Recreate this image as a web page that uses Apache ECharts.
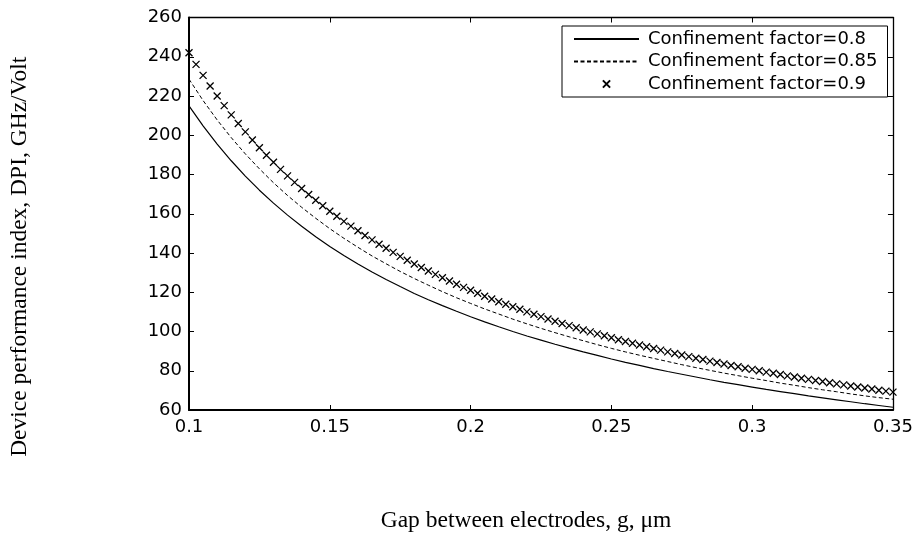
<!DOCTYPE html>
<html>
<head>
<meta charset="utf-8">
<script src="https://cdn.jsdelivr.net/npm/echarts@6/dist/echarts.min.js"></script>
<style>html,body{margin:0;padding:0;background:#fff;}#c{width:916px;height:538px;}</style>
</head>
<body>
<div id="c"></div>
<script>
// Gap between electrodes (µm) sample positions
const gapFine = [0.1,0.1025,0.105,0.1075,0.11,0.1125,0.115,0.1175,0.12,0.1225,0.125,0.1275,0.13,0.1325,0.135,0.1375,0.14,0.1425,0.145,0.1475,0.15,0.1525,0.155,0.1575,0.16,0.1625,0.165,0.1675,0.17,0.1725,0.175,0.1775,0.18,0.1825,0.185,0.1875,0.19,0.1925,0.195,0.1975,0.2,0.2025,0.205,0.2075,0.21,0.2125,0.215,0.2175,0.22,0.2225,0.225,0.2275,0.23,0.2325,0.235,0.2375,0.24,0.2425,0.245,0.2475,0.25,0.2525,0.255,0.2575,0.26,0.2625,0.265,0.2675,0.27,0.2725,0.275,0.2775,0.28,0.2825,0.285,0.2875,0.29,0.2925,0.295,0.2975,0.3,0.3025,0.305,0.3075,0.31,0.3125,0.315,0.3175,0.32,0.3225,0.325,0.3275,0.33,0.3325,0.335,0.3375,0.34,0.3425,0.345,0.3475,0.35];
const gapCoarse = [0.1,0.105,0.11,0.115,0.12,0.125,0.13,0.135,0.14,0.145,0.15,0.155,0.16,0.165,0.17,0.175,0.18,0.185,0.19,0.195,0.2,0.205,0.21,0.215,0.22,0.225,0.23,0.235,0.24,0.245,0.25,0.255,0.26,0.265,0.27,0.275,0.28,0.285,0.29,0.295,0.3,0.305,0.31,0.315,0.32,0.325,0.33,0.335,0.34,0.345,0.35];

// DPI, GHz/Volt — confinement factor 0.8 (solid)
const dpi080 = [215.0,204.8,195.5,187.0,179.2,172.0,165.4,159.3,153.6,148.3,143.3,138.7,134.4,130.3,126.5,122.9,119.4,116.2,113.2,110.3,107.5,104.9,102.4,100.0,97.7,95.6,93.5,91.5,89.6,87.8,86.0,84.3,82.7,81.1,79.6,78.2,76.8,75.4,74.1,72.9,71.7,70.5,69.4,68.3,67.2,66.2,65.2,64.2,63.2,62.3,61.4];
// confinement factor 0.85 (dashed)
const dpi085 = [228.6,217.7,207.8,198.8,190.5,182.9,175.8,169.3,163.3,157.7,152.4,147.5,142.9,138.5,134.5,130.6,127.0,123.6,120.3,117.2,114.3,111.5,108.9,106.3,103.9,101.6,99.4,97.3,95.3,93.3,91.4,89.6,87.9,86.3,84.7,83.1,81.6,80.2,78.8,77.5,76.2,75.0,73.7,72.6,71.4,70.3,69.3,68.2,67.2,66.3,65.5];
// confinement factor 0.9 (x markers)
const dpi090 = [242.0,236.1,230.5,225.1,220.0,215.1,210.4,206.0,201.7,197.6,193.6,189.8,186.2,182.6,179.3,176.0,172.9,169.8,166.9,164.1,161.3,158.7,156.1,153.7,151.3,148.9,146.7,144.5,142.4,140.3,138.3,136.3,134.4,132.6,130.8,129.1,127.4,125.7,124.1,122.5,121.0,119.5,118.0,116.6,115.2,113.9,112.6,111.3,110.0,108.8,107.6,106.4,105.2,104.1,103.0,101.9,100.8,99.8,98.8,97.8,96.8,95.8,94.9,94.0,93.1,92.2,91.3,90.5,89.6,88.8,88.0,87.2,86.4,85.7,84.9,84.2,83.4,82.7,82.0,81.3,80.7,80.0,79.3,78.7,78.1,77.4,76.8,76.2,75.6,75.0,74.5,73.9,73.3,72.8,72.2,71.7,71.2,70.7,70.1,69.6,69.1];

const seriesNames = ['Confinement factor=0.8','Confinement factor=0.85','Confinement factor=0.9'];
const xTitle = 'Gap between electrodes, g, \u03bcm';
const yTitle = 'Device performance index, DPI, GHz/Volt';

function pairs(xs, ys){ return xs.map((x,i)=>[x, ys[i]]); }

const tickFont = {fontFamily:'DejaVu Sans', fontSize:18, color:'#000'};
const chart = echarts.init(document.getElementById('c'), null, {renderer:'canvas'});
const crossPath = 'path://M0,0L10,10M10,0L0,10';

chart.setOption({
  backgroundColor:'#fff',
  animation:false,
  grid:{left:186.5, right:22, top:17.5, bottom:118, containLabel:false},
  xAxis:[{
    type:'value', min:0.1, max:0.35, interval:0.05, position:'bottom',
    name:xTitle, nameLocation:'middle', nameGap:99,
    nameTextStyle:{fontFamily:'Liberation Serif', fontSize:23.5, color:'#000', padding:[0,30,0,0]},
    axisLine:{show:true, onZero:false, lineStyle:{color:'#000', width:2}},
    axisTick:{show:true, inside:true, length:5, lineStyle:{color:'#000'}},
    axisLabel:Object.assign({margin:8}, tickFont),
    splitLine:{show:false}
  },{
    type:'value', min:0.1, max:0.35, interval:0.05, position:'top',
    axisLine:{show:true, onZero:false, lineStyle:{color:'#000', width:1.3}},
    axisTick:{show:true, inside:true, length:5, lineStyle:{color:'#000'}},
    axisLabel:{show:false}, splitLine:{show:false}
  }],
  yAxis:[{
    type:'value', min:60, max:260, interval:20, position:'left',
    name:yTitle, nameLocation:'middle', nameGap:157, nameRotate:90,
    nameTextStyle:{fontFamily:'Liberation Serif', fontSize:23.5, color:'#000', padding:[0,86,0,0]},
    axisLine:{show:true, onZero:false, lineStyle:{color:'#000', width:2}},
    axisTick:{show:true, inside:true, length:5, lineStyle:{color:'#000'}},
    axisLabel:Object.assign({margin:7}, tickFont),
    splitLine:{show:false}
  },{
    type:'value', min:60, max:260, interval:20, position:'right',
    axisLine:{show:true, onZero:false, lineStyle:{color:'#000', width:1.3}},
    axisTick:{show:true, inside:true, length:5, lineStyle:{color:'#000'}},
    axisLabel:{show:false}, splitLine:{show:false}
  }],
  legend:{
    orient:'vertical', left:562, top:26,
    padding:[4,10,4,11], itemGap:4.5, itemWidth:65, itemHeight:9,
    backgroundColor:'#fff', borderColor:'#000', borderWidth:1,
    textStyle:{fontFamily:'DejaVu Sans', fontSize:18, color:'#000', lineHeight:18, padding:[0,0,0,4]},
    data:[
      {name:seriesNames[0], itemStyle:{opacity:0}},
      {name:seriesNames[1], itemStyle:{opacity:0}},
      {name:seriesNames[2]}
    ]
  },
  series:[{
    name:seriesNames[0], type:'line', data:pairs(gapCoarse, dpi080),
    showSymbol:false, symbol:'none',
    lineStyle:{color:'#000', width:1.2, type:'solid'}, itemStyle:{color:'#000'}
  },{
    name:seriesNames[1], type:'line', data:pairs(gapCoarse, dpi085),
    showSymbol:false, symbol:'none',
    lineStyle:{color:'#000', width:1, type:[4,2.5]}, itemStyle:{color:'#000'}
  },{
    name:seriesNames[2], type:'line', data:pairs(gapFine, dpi090),
    showSymbol:true, showAllSymbol:true, symbol:crossPath, symbolSize:7,
    lineStyle:{width:0, opacity:0},
    itemStyle:{color:'rgba(0,0,0,0)', borderColor:'#000', borderWidth:1.3}
  }]
});
</script>
</body>
</html>
